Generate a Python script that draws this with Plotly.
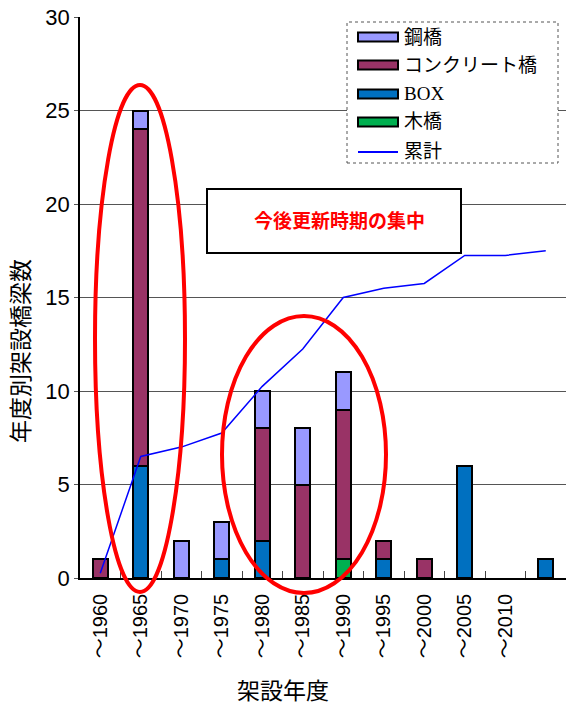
import plotly.graph_objects as go

categories = ["～1960", "～1965", "～1970", "～1975", "～1980", "～1985", "～1990",
              "～1995", "～2000", "～2005", "～2010", " "]
steel = [0, 1, 2, 2, 2, 3, 2, 0, 0, 0, 0, 0]
concrete = [1, 18, 0, 0, 6, 5, 8, 1, 1, 0, 0, 0]
box = [0, 6, 0, 1, 2, 0, 0, 1, 0, 6, 0, 1]
wood = [0, 0, 0, 0, 0, 0, 1, 0, 0, 0, 0, 0]
cumulative = [0.25, 6.5, 7.0, 7.75, 10.25, 12.25, 15.0, 15.5, 15.75, 17.25, 17.25, 17.5]
y_ticks = [0, 5, 10, 15, 20, 25, 30]

series_names = ["鋼橋", "コンクリート橋", "BOX", "木橋"]
series_colors = ["#9999FF", "#993366", "#0070C0", "#00B050"]
line_name = "累計"
line_color = "#0000FF"

W, H = 566, 709
L, R, T, B = 80, 0, 17, 131
pw, ph = W - L - R, H - T - B

def px(x):
    return (x - L) / pw

def py(y):
    return (H - B - y) / ph

def nz(vals):
    return [v if v else None for v in vals]

jp = "Liberation Sans, Noto Sans CJK JP"
leg_font = "Liberation Serif, Noto Sans CJK JP"

fig = go.Figure()
stack = [(wood, "木橋", "#00B050"), (box, "BOX", "#0070C0"),
         (concrete, "コンクリート橋", "#993366"), (steel, "鋼橋", "#9999FF")]
for vals, name, col in stack:
    fig.add_trace(go.Bar(x=categories, y=nz(vals), name=name, showlegend=False,
                         marker=dict(color=col, line=dict(color="black", width=2))))
fig.add_trace(go.Scatter(x=categories, y=cumulative, name=line_name, mode="lines", showlegend=False,
                         line=dict(color=line_color, width=1.5)))

shapes = [
    dict(type="rect", xref="paper", yref="paper", x0=px(347), x1=px(558), y0=py(163), y1=py(22),
         line=dict(color="#555", width=1, dash="dot"), fillcolor="white", layer="above"),
]
annotations = []
item_y = [37, 65, 94, 122, 151]
for i, (nm, col) in enumerate(zip(series_names, series_colors)):
    yc = item_y[i]
    shapes.append(dict(type="rect", xref="paper", yref="paper", x0=px(358), x1=px(398),
                       y0=py(yc + 4.5), y1=py(yc - 4.5), line=dict(color="black", width=2),
                       fillcolor=col, layer="above"))
    annotations.append(dict(text=nm, xref="paper", yref="paper", x=px(402), y=py(yc),
                            xanchor="left", yanchor="middle",
                            showarrow=False, font=dict(family=leg_font, size=19, color="black")))
shapes.append(dict(type="line", xref="paper", yref="paper", x0=px(358), x1=px(398),
                   y0=py(item_y[4] + 1), y1=py(item_y[4] + 1), line=dict(color=line_color, width=2),
                   layer="above"))
annotations.append(dict(text=line_name, xref="paper", yref="paper", x=px(402), y=py(item_y[4]),
                        xanchor="left", yanchor="middle",
                        showarrow=False, font=dict(family=leg_font, size=19, color="black")))

shapes += [
    dict(type="rect", xref="paper", yref="paper", x0=px(207), x1=px(461), y0=py(253), y1=py(189),
         line=dict(color="black", width=2), fillcolor="white", layer="above"),
    dict(type="circle", xref="paper", yref="paper", x0=px(95), x1=px(185), y0=py(592), y1=py(85),
         line=dict(color="#FF0000", width=4), layer="above"),
    dict(type="circle", xref="paper", yref="paper", x0=px(222), x1=px(386), y0=py(593), y1=py(316),
         line=dict(color="#FF0000", width=4), layer="above"),
]

annotations += [
    dict(text="<b>今後更新時期の集中</b>", xref="paper", yref="paper", x=px(339), y=py(220),
         xanchor="center", yanchor="middle",
         showarrow=False, font=dict(family="Noto Sans CJK JP", size=19, color="#FF0000")),
    dict(text="架設年度", xref="paper", yref="paper", x=px(283), y=py(691),
         xanchor="center", yanchor="middle",
         showarrow=False, font=dict(family=jp, size=23, color="black")),
    dict(text="年度別架設橋梁数", xref="paper", yref="paper", x=px(21), y=py(351), textangle=-90,
         xanchor="center", yanchor="middle",
         showarrow=False, font=dict(family=jp, size=23, color="black")),
]

fig.update_layout(
    width=W, height=H,
    margin=dict(l=L, r=R, t=T, b=B),
    barmode="stack", bargap=0.62,
    plot_bgcolor="white", paper_bgcolor="white",
    showlegend=False,
    shapes=shapes, annotations=annotations,
    xaxis=dict(type="category", range=[-0.5, 11.5], showline=True, linecolor="black", linewidth=1.5,
               tickangle=-90, tickfont=dict(family=jp, size=20, color="black"), ticklabelstandoff=6,
               ticks="inside", tickson="boundaries", ticklen=7, tickcolor="#444", tickwidth=1,
               showgrid=False),
    yaxis=dict(range=[0, 30], tickvals=y_ticks, showline=True, linecolor="black", linewidth=1.5,
               showgrid=True, gridcolor="#555", gridwidth=1, ticks="outside", ticklen=4, tickcolor="#555",
               tickfont=dict(family="Liberation Sans", size=22, color="black"), zeroline=False),
)

fig.write_html("out.html")
